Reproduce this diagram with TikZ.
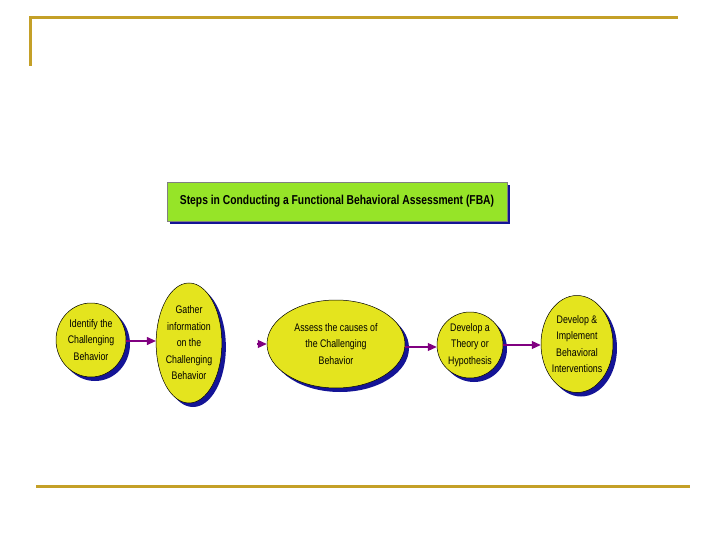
\documentclass[tikz,border=0pt]{standalone}
\usepackage{fontspec}
\setmainfont{Liberation Sans}[FakeStretch=0.8]
\usetikzlibrary{shapes.geometric,shadows,arrows.meta}
\definecolor{gold}{RGB}{196,160,40}
\definecolor{bub}{RGB}{228,228,30}
\definecolor{titlegreen}{RGB}{150,228,40}
\definecolor{shadowblue}{RGB}{20,20,150}
\definecolor{arrowpurple}{RGB}{128,0,128}
\tikzset{
  frameline/.style={draw=gold, line width=3pt},
  bubble/.style={ellipse, draw=black, line width=0.5pt, fill=bub, inner sep=0pt,
    align=center, font=\fontsize{11}{16.5}\selectfont,
    drop shadow={shadow xshift=4pt, shadow yshift=-4pt, fill=shadowblue, opacity=1}},
  titlebox/.style={rectangle, draw=gray, line width=0.6pt, fill=titlegreen,
    minimum width=340pt, minimum height=39pt, font=\bfseries\fontsize{12.9}{15}\selectfont,
    drop shadow={shadow xshift=3pt, shadow yshift=-3pt, fill=shadowblue, opacity=1}},
  flow/.style={draw=arrowpurple, line width=1.1pt, -{Triangle[length=9pt,width=8pt]}}
}
\begin{document}
\begin{tikzpicture}[x=1pt,y=-1pt]
\useasboundingbox (0,0) rectangle (720,540);
\fill[white] (0,0) rectangle (720,540);
% frame lines
\draw[frameline] (30,66) -- (30,18) -- (678,18);
\draw[frameline] (36,486) -- (690,486);
% title
\node[titlebox] (title) at (337,201.5) {Steps in Conducting a Functional Behavioral Assessment (FBA)};
% bubbles
\node[bubble, minimum width=70pt, minimum height=74pt] (s1) at (91,340)
  {Identify the\\Challenging\\Behavior};
\node[bubble, minimum width=52pt, minimum height=120pt] (s2) at (189,343)
  {Gather\\information\\on the\\Challenging\\Behavior};
\node[bubble, minimum width=138pt, minimum height=88pt] (s3) at (336,344)
  {Assess the causes of\\the Challenging\\Behavior};
\node[bubble, minimum width=66pt, minimum height=66pt] (s4) at (470,345)
  {Develop a\\Theory or\\Hypothesis};
\node[bubble, minimum width=72pt, minimum height=97pt] (s5) at (577,344)
  {Develop \&\\Implement\\Behavioral\\Interventions};
% connectors
\coordinate (c23) at ([xshift=-10pt]s3.west);
\draw[flow] (s1.east |- 0,341) -- (s2.west |- 0,341);
\draw[flow] (c23) -- (s3.west);
\draw[flow] (s3.east |- 0,347) -- (s4.west |- 0,347);
\draw[flow] (s4.east |- 0,345) -- (s5.west |- 0,345);
\end{tikzpicture}
\end{document}
